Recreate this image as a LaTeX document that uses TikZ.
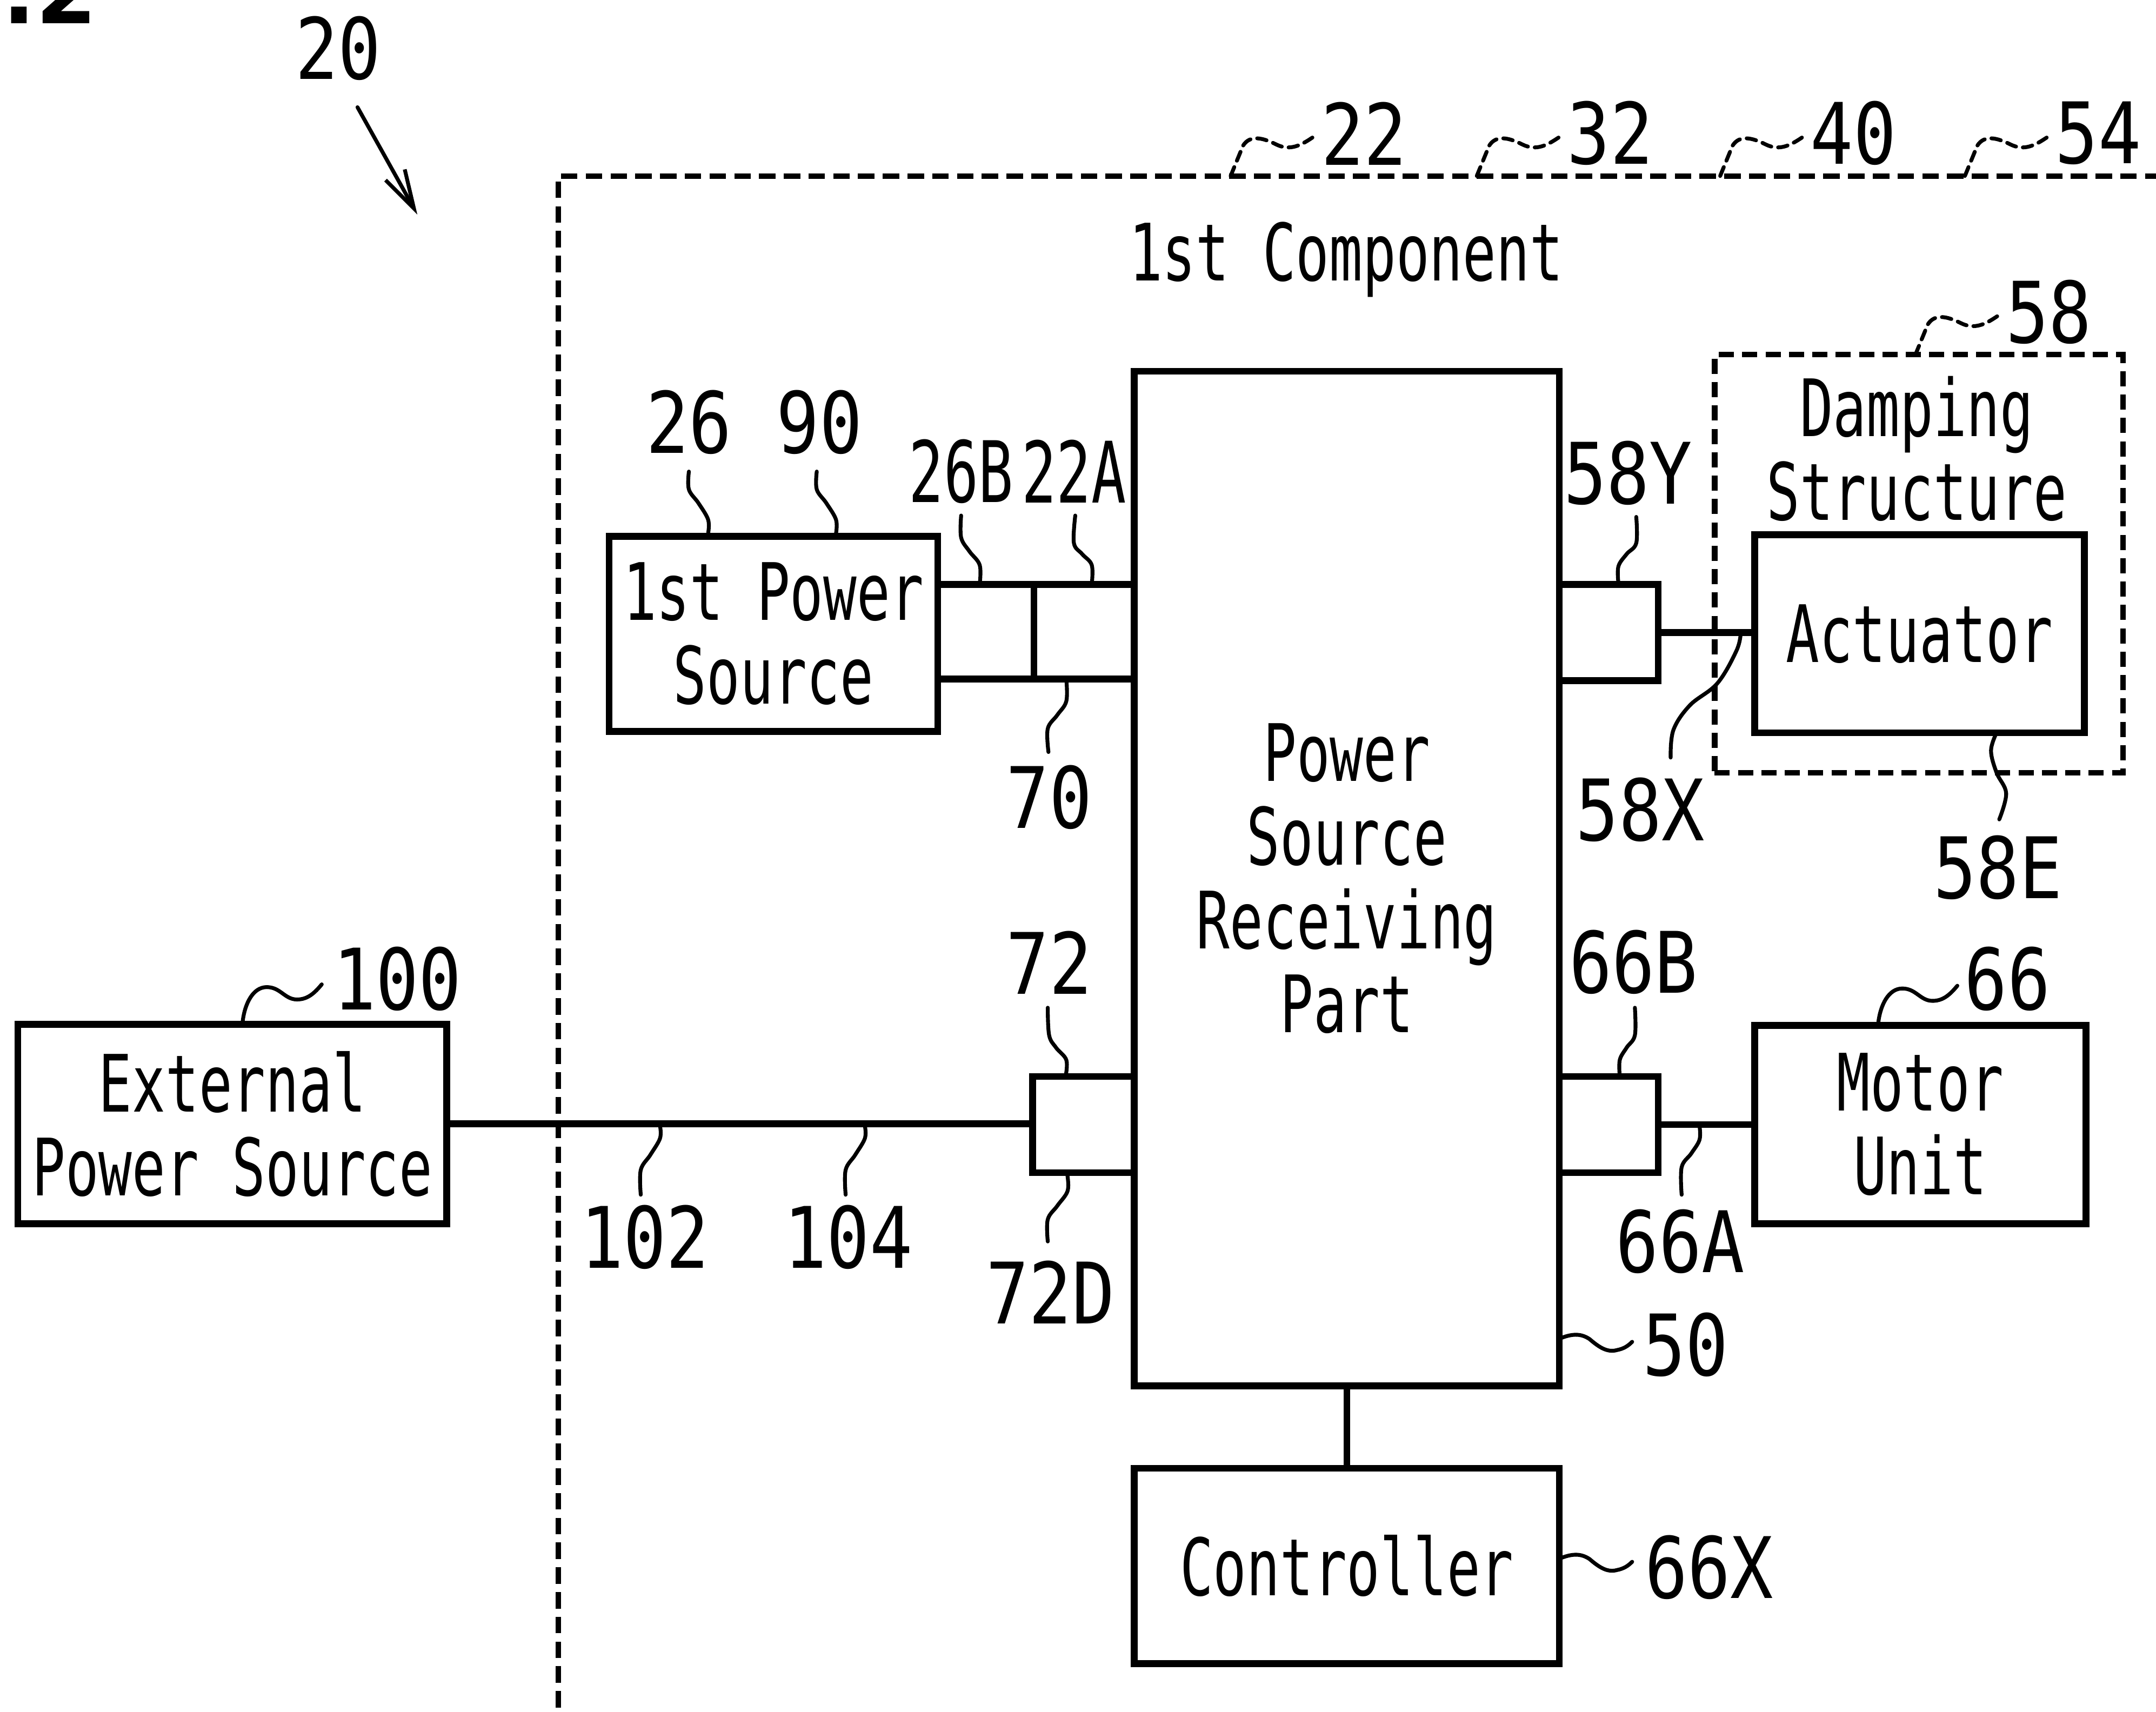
\documentclass[tikz,border=0pt]{standalone}
\usepackage{fontspec}
\newfontfamily\txtf{DejaVu Sans Mono}[FakeStretch=0.70]
\newfontfamily\numf{DejaVu Sans Mono}[FakeStretch=0.84]
\newfontfamily\numsf{DejaVu Sans Mono}[FakeStretch=0.68]
\newfontfamily\figf{DejaVu Sans}
\usetikzlibrary{arrows.meta}
\begin{document}
\begin{tikzpicture}[x=1pt,y=-1pt,
  box/.style={draw, line width=5pt, inner sep=0pt},
  wire/.style={line width=5pt},
  dbox/.style={draw, line width=4pt, dash pattern=on 11pt off 6pt},
  dline/.style={line width=4pt, dash pattern=on 12pt off 6pt},
  leader/.style={line width=2.8pt, line cap=round},
  dleader/.style={leader, dash pattern=on 7pt off 5pt},
  txt/.style={font=\txtf\fontsize{57.6pt}{61pt}\selectfont, align=center, inner sep=0pt},
  num/.style={font=\numf\fontsize{61.7pt}{64pt}\selectfont, inner sep=0pt},
  nums/.style={font=\numsf\fontsize{61.7pt}{64pt}\selectfont, inner sep=0pt},
]
\useasboundingbox (0,0) rectangle (1568,1245);
\clip (0,0) rectangle (1568,1245);

% figure title fragment
\node[anchor=base east, inner sep=0pt, font=\figf\bfseries\fontsize{64pt}{64pt}\selectfont] (fig) at (71,17) {FIG.2};

% reference 20 with arrow
\node[num] (n20) at (246,35) {20};
\coordinate (a20s) at (260,78);
\coordinate (a20e) at (303.5,156);
\draw[leader, -{Straight Barb[length=28pt,width=16pt]}] (a20s) -- (a20e);

% outer dashed boundary (1st component)
\coordinate (oc) at (406,128);
\draw[dline] (406,1260) -- (oc) -- (1580,128);
\node[txt, text depth=0pt] (comp) at (979,183) {1st Component};

% top reference labels with dashed leaders
\foreach \L/\t in {992/22,1171/32,1348/40,1526/54}{
  \node[num] (n\t) at (\L,97) {\t};
  \draw[dleader] (\L-97,128) -- (\L-88,106) .. controls (\L-83,98) and (\L-74,100) .. (\L-64,105)
     .. controls (\L-54,110) and (\L-46,106) .. (\L-36,99);
}

% main boxes
\node[box, txt, minimum width=312pt, minimum height=145pt] (ext) at (169,817.5) {External\\Power Source};
\node[box, txt, minimum width=239pt, minimum height=142pt] (ps1) at (562.5,461) {1st Power\\Source};
\node[box, txt, minimum width=309pt, minimum height=738pt] (prp) at (979.5,639) {Power\\Source\\Receiving\\Part};
\node[box, txt, minimum width=309pt, minimum height=142pt] (ctrl) at (979.5,1139) {Controller};
\node[box, txt, minimum width=240pt, minimum height=144pt] (act) at (1396,461) {Actuator};
\node[box, txt, minimum width=241pt, minimum height=144pt] (motor) at (1396.5,818) {Motor\\Unit};
\node[dbox, minimum width=297pt, minimum height=304pt, inner sep=0pt] (damp) at (1395.5,410) {};
\node[txt] (damptxt) at (1394,326.5) {Damping\\Structure};

% small connector boxes
\node[box, minimum width=70pt, minimum height=69pt] (c26) at (717,459.5) {};
\node[box, minimum width=73pt, minimum height=69pt] (c22) at (788.5,459.5) {};
\node[box, minimum width=72pt, minimum height=70pt] (b58y) at (1170,460) {};
\node[box, minimum width=72pt, minimum height=70pt] (b66b) at (1170,818) {};
\node[box, minimum width=74pt, minimum height=70pt] (b72) at (788,818) {};

% wires
\draw[wire] (ext.east) -- (ext.east -| b72.west);
\draw[wire] (b58y.east) -- (b58y.east -| act.west);
\draw[wire] (b66b.east) -- (b66b.east -| motor.west);
\draw[wire] (prp.south) -- (ctrl.north);

% 58 label (dashed leader)
\node[num] (n58) at (1490,227) {58};
\draw[dleader] (1393,258) -- (1402,236) .. controls (1407,228) and (1416,230) .. (1426,235)
   .. controls (1436,240) and (1444,236) .. (1454,229);

% labels
\node[num] (n26) at (501,307) {26};
\node[num] (n90) at (596,307) {90};
\node[nums] (n26B) at (699,343) {26B};
\node[nums] (n22A) at (781,343) {22A};
\node[num] (n58Y) at (1184,344) {58Y};
\node[num] (n70) at (763,580) {70};
\node[num] (n58X) at (1193,589) {58X};
\node[num] (n58E) at (1453,631) {58E};
\node[num] (n72) at (763,700) {72};
\node[num] (n66B) at (1188,700) {66B};
\node[num] (n100) at (289,712) {100};
\node[num] (n66) at (1460,712) {66};
\node[num] (n102) at (469,900) {102};
\node[num] (n104) at (617,900) {104};
\node[num] (n66A) at (1222,903) {66A};
\node[num] (n72D) at (764,940) {72D};
\node[num] (n50) at (1226,978) {50};
\node[num] (n66X) at (1243,1140) {66X};

% S-shaped leaders
\draw[leader] plot[smooth, tension=0.6] coordinates {(515,388) (515,378) (508,366) (501,356) (501,343)};
\draw[leader] plot[smooth, tension=0.6] coordinates {(608,388) (608,378) (601,366) (594,356) (594,343)};
\draw[leader] plot[smooth, tension=0.6] coordinates {(712.5,425) (712.5,411) (705,401) (699,391) (699,375)};
\draw[leader] plot[smooth, tension=0.6] coordinates {(794,425) (794,411) (787,403) (781,395) (782,375)};
\draw[leader] plot[smooth, tension=0.6] coordinates {(1177,424) (1177,412) (1183,403) (1190,395) (1190,376)};
\draw[leader] plot[smooth, tension=0.6] coordinates {(775,783) (775.5,771) (768,762) (763,753) (762,733)};
\draw[leader] plot[smooth, tension=0.6] coordinates {(1178,783) (1178,771) (1183,762) (1189,753) (1189,733)};
\draw[leader] plot[smooth, tension=0.6] coordinates {(775.5,494) (775.5,510) (769,520) (762,530) (762.5,547)};
\draw[leader] plot[smooth, tension=0.6] coordinates {(776,853) (776.5,866) (769,877) (762,887) (762,903)};
\draw[leader] plot[smooth, tension=0.6] coordinates {(1236,819) (1236,829) (1230,839) (1223,849) (1223,869)};
\draw[leader] plot[smooth, tension=0.6] coordinates {(480,819) (480,828) (473,840) (466,851) (466,869)};
\draw[leader] plot[smooth, tension=0.6] coordinates {(629,819) (629,828) (622,840) (615,851) (615,869)};
\draw[leader] plot[smooth, tension=0.6] coordinates {(1452,533) (1448,546) (1452,562) (1459,577) (1454,596)};
\draw[leader] plot[smooth, tension=0.6] coordinates {(1266,460) (1263,473) (1249,497) (1229,513) (1217,531) (1215,551)};

% tilde leaders (rising)
\foreach \sx/\sy in {176.5/743, 1366/744}{
  \draw[leader] (\sx,\sy) .. controls (\sx+1.5,\sy-13) and (\sx+7.5,\sy-25) .. (\sx+17.5,\sy-25)
    .. controls (\sx+27.5,\sy-25) and (\sx+30.5,\sy-16) .. (\sx+39.5,\sy-16)
    .. controls (\sx+47.5,\sy-16) and (\sx+52.5,\sy-21) .. (\sx+57.5,\sy-27);
}
% tilde leaders (horizontal)
\foreach \sx/\sy in {1136/973, 1136/1133}{
  \draw[leader] (\sx,\sy) .. controls (\sx+8,\sy-3) and (\sx+14,\sy-3) .. (\sx+20,\sy+1)
    .. controls (\sx+27,\sy+7) and (\sx+33,\sy+11) .. (\sx+40,\sy+9)
    .. controls (\sx+45,\sy+8) and (\sx+48,\sy+6) .. (\sx+51,\sy+3);
}
\end{tikzpicture}
\end{document}
